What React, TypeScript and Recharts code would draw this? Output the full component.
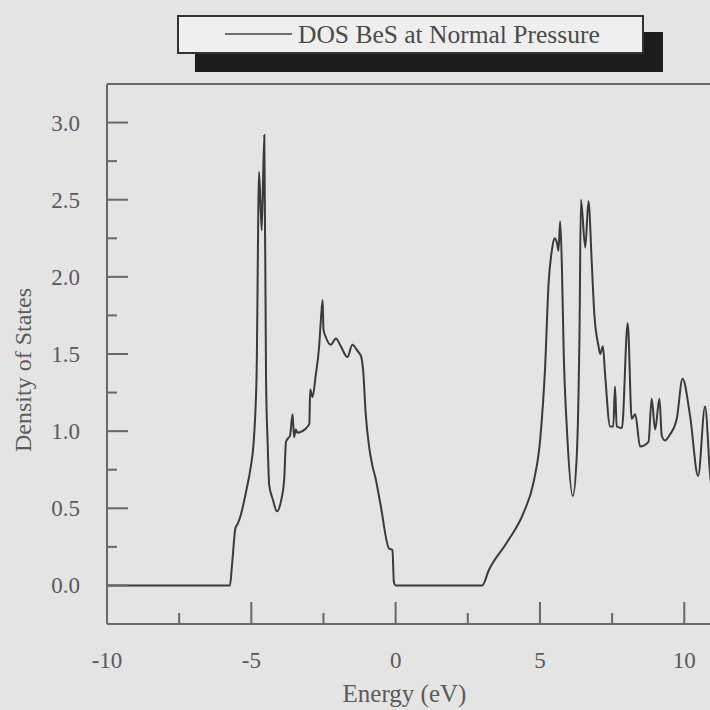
import { LineChart, Line, XAxis, YAxis, ReferenceLine } from "recharts";

const SERIES_NAME = "DOS BeS at Normal Pressure";
const X_TITLE = "Energy (eV)";
const Y_TITLE = "Density of States";

// energy (eV) and density of states
const ENERGY = [
  -10, -5.74, -5.67, -5.55, -5.47, -5.36, -5.19, -5.01, -4.93, -4.86, -4.82,
  -4.73, -4.64, -4.55, -4.49, -4.43, -4.38, -4.26, -4.11, -3.98, -3.86, -3.8,
  -3.74, -3.66, -3.57, -3.52, -3.46, -3.4, -3.23, -3.05, -2.99, -2.96, -2.88,
  -2.77, -2.65, -2.59, -2.53, -2.5, -2.42, -2.25, -2.07, -1.9, -1.67, -1.5,
  -1.32, -1.19, -1.12, -1.04, -0.92, -0.81, -0.69, -0.52, -0.23, -0.11, -0.06,
  0, 3.0, 3.23, 3.86, 4.43, 4.78, 5.01, 5.18, 5.3, 5.42, 5.5, 5.59, 5.64, 5.7,
  5.76, 5.82, 5.94, 6.14, 6.28, 6.37, 6.42, 6.57, 6.68, 6.8, 6.88, 7.03, 7.09,
  7.18, 7.26, 7.43, 7.54, 7.6, 7.66, 7.84, 8.04, 8.18, 8.3, 8.47, 8.76, 8.87,
  8.99, 9.14, 9.22, 9.33, 9.51, 9.74, 9.94, 10.2, 10.48, 10.72, 10.89, 10.98,
];
const DOS = [
  0, 0, 0.13, 0.37, 0.4, 0.46, 0.6, 0.78, 0.9, 1.12, 1.34,
  2.68, 2.3, 2.92, 1.34, 0.9, 0.65, 0.56, 0.48, 0.54, 0.69, 0.93,
  0.95, 0.97, 1.11, 0.96, 1.01, 0.99, 1.0, 1.03, 1.05, 1.27, 1.22,
  1.36, 1.55, 1.72, 1.85, 1.66, 1.61, 1.56, 1.6, 1.55, 1.48, 1.56,
  1.52, 1.48, 1.38, 1.12, 0.9, 0.78, 0.69, 0.52, 0.24, 0.23, 0.02,
  0, 0, 0.1, 0.28, 0.47, 0.67, 0.95, 1.42, 1.96, 2.18, 2.25, 2.22, 2.17, 2.36,
  2.07, 1.53, 0.99, 0.58, 0.86, 1.64, 2.5, 2.19, 2.49, 2.07, 1.77, 1.55, 1.5,
  1.55, 1.36, 1.03, 1.03, 1.29, 1.03, 1.02, 1.7, 1.08, 1.11, 0.9, 0.93, 1.21,
  1.01, 1.21, 0.97, 0.94, 0.98, 1.08, 1.34, 1.1, 0.71, 1.16, 0.73, 0.55,
];

const X_TICKS = [-10, -7.5, -5, -2.5, 0, 2.5, 5, 7.5, 10];
const Y_TICKS = [0, 0.25, 0.5, 0.75, 1, 1.25, 1.5, 1.75, 2, 2.25, 2.5, 2.75, 3];

const data = ENERGY.map((e, i) => ({ e, dos: DOS[i] }));

const FONT = '"Liberation Serif", "Times New Roman", serif';
const BG = "#e4e4e4";
const AXIS = "#686868";
const TEXT = "#5a5a5a";

function YTick({ x, y, payload }: any) {
  const v = payload.value;
  const major = Math.abs(v * 2 - Math.round(v * 2)) < 1e-6;
  return (
    <g>
      <line x1={x} x2={x + (major ? 21 : 10)} y1={y} y2={y} stroke={AXIS} strokeWidth={2} />
      {major && (
        <text x={x - 27} y={y} dy="0.35em" textAnchor="end" fill={TEXT} fontSize={23} fontFamily={FONT}>
          {v.toFixed(1)}
        </text>
      )}
    </g>
  );
}

function XTick({ x, y, payload }: any) {
  const v = payload.value;
  const major = v % 5 === 0;
  return (
    <g>
      <line x1={x} x2={x} y1={y} y2={y - (major ? 22 : 11)} stroke={AXIS} strokeWidth={2} />
      {major && (
        <text x={x} y={y + 44} textAnchor="middle" fill={TEXT} fontSize={23} fontFamily={FONT}>
          {v}
        </text>
      )}
    </g>
  );
}

function XTitle({ viewBox }: any) {
  return (
    <text
      x={viewBox.x + viewBox.width / 2 - 20}
      y={viewBox.y + 78}
      textAnchor="middle"
      fill={TEXT}
      fontSize={25}
      fontFamily={FONT}
    >
      {X_TITLE}
    </text>
  );
}

function YTitle({ viewBox }: any) {
  const x = viewBox.x - 16;
  const y = viewBox.y + viewBox.height / 2 + 16;
  return (
    <text
      x={x}
      y={y}
      transform={`rotate(-90, ${x}, ${y})`}
      textAnchor="middle"
      fill={TEXT}
      fontSize={24}
      fontFamily={FONT}
    >
      {Y_TITLE}
    </text>
  );
}

function LegendBox() {
  return (
    <svg width={710} height={90} style={{ position: "absolute", left: 0, top: 0 }}>
      <rect x={195} y={32} width={468} height={40} fill="#1c1c1c" />
      <rect x={178} y={16} width={465} height={37} fill="#efefef" stroke="#333" strokeWidth={2} />
      <line x1={225} x2={292} y1={34} y2={34} stroke="#444" strokeWidth={1.5} />
      <text x={298} y={43} fill="#4a4a4a" fontSize={25.5} fontFamily={FONT}>
        {SERIES_NAME}
      </text>
    </svg>
  );
}

export default function App() {
  return (
    <div
      style={{
        position: "fixed",
        left: 0,
        top: 0,
        width: 710,
        height: 710,
        overflow: "hidden",
        background: BG,
      }}
    >
      <LineChart width={760} height={710} data={data} margin={{ top: 84, right: 18, bottom: 80, left: 47 }}>
        <XAxis
          dataKey="e"
          type="number"
          domain={[-10, 12]}
          ticks={X_TICKS}
          interval={0}
          height={6}
          tickSize={0}
          tickMargin={0}
          tickLine={false}
          tick={<XTick />}
          axisLine={{ stroke: AXIS, strokeWidth: 2 }}
          label={{ content: <XTitle /> }}
        />
        <YAxis
          type="number"
          domain={[-0.25, 3.25]}
          ticks={Y_TICKS}
          interval={0}
          width={60}
          tickSize={0}
          tickMargin={0}
          tickLine={false}
          tick={<YTick />}
          axisLine={{ stroke: AXIS, strokeWidth: 2 }}
          label={{ content: <YTitle /> }}
        />
        <ReferenceLine y={3.25} stroke={AXIS} strokeWidth={2} />
        <Line
          type="monotone"
          dataKey="dos"
          name={SERIES_NAME}
          stroke="#3a3a3a"
          strokeWidth={2}
          dot={false}
          isAnimationActive={false}
        />
      </LineChart>
      <LegendBox />
    </div>
  );
}
